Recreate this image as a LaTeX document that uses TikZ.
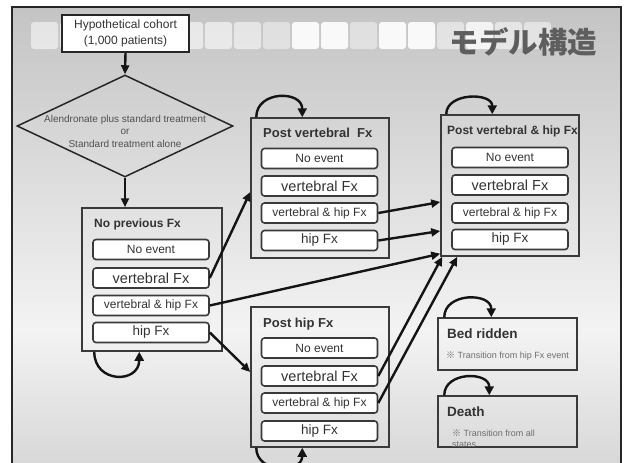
\documentclass[tikz,border=0pt]{standalone}
\usepackage{fontspec}
\setmainfont{Liberation Sans}
\newfontfamily\cjk{Noto Sans CJK JP}
\usetikzlibrary{arrows.meta,shapes.geometric,calc}
\definecolor{boxgray}{HTML}{3A3A3A}
\definecolor{txtgray}{HTML}{333333}
\definecolor{dmdtxt}{HTML}{505050}
\definecolor{notegray}{HTML}{6E6E6E}
\definecolor{titlegray}{HTML}{5E5E5E}
\definecolor{bgtop}{HTML}{C4C4C4}
\definecolor{bgmid}{HTML}{F3F3F3}
\definecolor{bgbot}{HTML}{D8D8D8}
\newcommand{\fsz}[1]{\fontsize{#1}{#1}\selectfont}
\begin{document}
\begin{tikzpicture}[x=1pt,y=-1pt,
  outerbox/.style={draw=boxgray, line width=1.5pt, rectangle, inner sep=0pt},
  innerbox/.style={draw=boxgray, fill=white, line width=1.6pt, rounded corners=3pt,
    minimum width=116pt, minimum height=20pt, inner sep=0pt, text=txtgray},
  ttl/.style={font=\bfseries\fsz{12}, text=txtgray, inner sep=0pt},
  note/.style={font=\fsz{9}, text=notegray, inner sep=0pt},
  arr/.style={draw=black!92, line width=2.4pt, -{Triangle[length=9pt,width=8pt]}},
  selfloop/.style={draw=black!92, line width=2.4pt, -{Triangle[length=9pt,width=9pt]}},
  fA/.style={font=\fsz{12}},
  fB/.style={font=\fsz{14.5}},
  fC/.style={font=\fsz{12}},
  fD/.style={font=\fsz{13.5}}]
\useasboundingbox (0,0) rectangle (624,463);
\fill[white] (0,0) rectangle (624,463);
% slide background
\shade[top color=bgtop, bottom color=bgmid] (12,7) rectangle (621,330);
\shade[top color=bgmid, bottom color=bgbot] (12,330) rectangle (621,464);
% header squares
\foreach \i/\o in {0/0.55,1/0.65,2/0.65,3/0.7,4/0.7,5/0.6,6/0.6,7/0.55,8/0.45,9/0.9,10/0.9,11/0.45,12/0.9,13/0.9,14/0.5,15/0.8,16/0.55,17/0.5}
  \fill[white, fill opacity=\o, rounded corners=3pt] ({31+29*\i},22) rectangle ++(27,27);
% frame
\draw[line width=2pt, draw=black!85] (12,470) -- (12,7) -- (621,7) -- (621,470);
% title
\node[font={\cjk\bfseries\fsz{29.5}}, text=titlegray, inner sep=0pt] (title) at (523.5,41.5) {モデル構造};
% cohort and decision
\node[draw=black!85, line width=2pt, fill=white, minimum width=127pt, minimum height=37pt,
  inner sep=0pt, align=center, font=\fontsize{12}{16}\selectfont, text=txtgray] (cohort) at (125.5,33.5)
  {Hypothetical cohort\\(1,000 patients)};
\node[diamond, draw=black!85, line width=1.5pt, minimum width=216pt, minimum height=102pt,
  inner sep=0pt] (choice) at (125,126) {};
\node[align=center, font=\fontsize{10}{12.5}\selectfont, text=dmdtxt, inner sep=0pt] (choicetxt) at (125,131)
  {Alendronate plus standard treatment\\or\\Standard treatment alone};
% outer state boxes
\node[outerbox, minimum width=140pt, minimum height=143pt] (NP) at (152,279.5) {};
\node[outerbox, minimum width=138pt, minimum height=140pt] (PV) at (320,188) {};
\node[outerbox, minimum width=138pt, minimum height=140pt] (PH) at (320,377) {};
\node[outerbox, minimum width=138pt, minimum height=141pt] (PVH) at (510,185.5) {};
\node[outerbox, minimum width=139pt, minimum height=52pt] (BR) at (507.5,344) {};
\node[outerbox, minimum width=139pt, minimum height=51pt] (DE) at (507.5,421.5) {};
% titles
\node[ttl, anchor=base west] (NPt) at (94,227) {No previous Fx};
\node[ttl, font=\bfseries\fsz{13}, anchor=base west] (PVt) at (263,137) {Post vertebral\ \ Fx};
\node[ttl, font=\bfseries\fsz{13}, anchor=base west] (PHt) at (263,327) {Post hip Fx};
\node[ttl, anchor=base west] (PVHt) at (447,134) {Post vertebral \& hip Fx};
\node[ttl, font=\bfseries\fsz{13.5}, anchor=base west] (BRt) at (447,338) {Bed ridden};
\node[ttl, font=\bfseries\fsz{13.5}, anchor=base west] (DEt) at (447,416) {Death};
% notes
\node[note, anchor=base west] (BRn) at (446,358) {{\cjk ※} Transition from hip Fx event};
\begin{scope}
\clip (439,397) rectangle (576,446.3);
\node[note, anchor=base west] (DEn1) at (452,436) {{\cjk ※} Transition from all};
\node[note, anchor=base west] (DEn2) at (452,447.5) {states};
\end{scope}
% inner boxes
\node[innerbox, fA] (np0) at (151,249.5) {No event};
\node[innerbox, fB] (np1) at (151,278) {vertebral Fx};
\node[innerbox, fC] (np2) at (151,305.5) {vertebral \& hip Fx};
\node[innerbox, fD] (np3) at (151,332.5) {hip Fx};
\node[innerbox, fA] (pv0) at (319.5,158.5) {No event};
\node[innerbox, fB] (pv1) at (319.5,186) {vertebral Fx};
\node[innerbox, fC] (pv2) at (319.5,213) {vertebral \& hip Fx};
\node[innerbox, fD] (pv3) at (319.5,240.5) {hip Fx};
\node[innerbox, fA] (ph0) at (319.5,348) {No event};
\node[innerbox, fB] (ph1) at (319.5,376) {vertebral Fx};
\node[innerbox, fC] (ph2) at (319.5,403) {vertebral \& hip Fx};
\node[innerbox, fD] (ph3) at (319.5,431) {hip Fx};
\node[innerbox, fA] (pvh0) at (510,157.5) {No event};
\node[innerbox, fB] (pvh1) at (510,185) {vertebral Fx};
\node[innerbox, fC] (pvh2) at (510,213) {vertebral \& hip Fx};
\node[innerbox, fD] (pvh3) at (510,239.5) {hip Fx};
% flow arrows
\draw[arr] (cohort.south) -- (choice.north);
\draw[arr] (choice.south) -- (NP.north -| choice.south);
\draw[arr] (np1.east) -- ([yshift=-4pt]PV.west);
\draw[arr] (np2.east) -- ([yshift=3pt]PVH.south west);
\draw[arr] (np3.east) -- ([yshift=5pt]PH.west);
\draw[arr] (pv2.east) -- ([yshift=-16.5pt]PVH.west);
\draw[arr] (pv3.east) -- ([yshift=-45.5pt]PVH.west);
\draw[arr] (ph1.east) -- ([xshift=2pt]PVH.south west);
\draw[arr] (ph2.east) -- ([xshift=17pt]PVH.south west);
% self loops
\draw[selfloop] ([xshift=13pt]NP.south west) .. controls +(0,32) and +(0,32) .. ([xshift=58pt]NP.south west);
\draw[selfloop] ([xshift=6pt]PV.north west) .. controls +(0,-27) and +(0,-27) .. ([xshift=52pt]PV.north west);
\draw[selfloop] ([xshift=6pt]PH.south west) .. controls +(0,26) and +(0,26) .. ([xshift=52pt]PH.south west);
\draw[selfloop] ([xshift=6pt]PVH.north west) .. controls +(0,-22) and +(0,-22) .. ([xshift=52pt]PVH.north west);
\draw[selfloop] ([xshift=7pt]BR.north west) .. controls +(0,-25) and +(0,-25) .. ([xshift=54pt]BR.north west);
\draw[selfloop] ([xshift=7pt]DE.north west) .. controls +(0,-24) and +(0,-24) .. ([xshift=52pt]DE.north west);
\end{tikzpicture}
\end{document}
